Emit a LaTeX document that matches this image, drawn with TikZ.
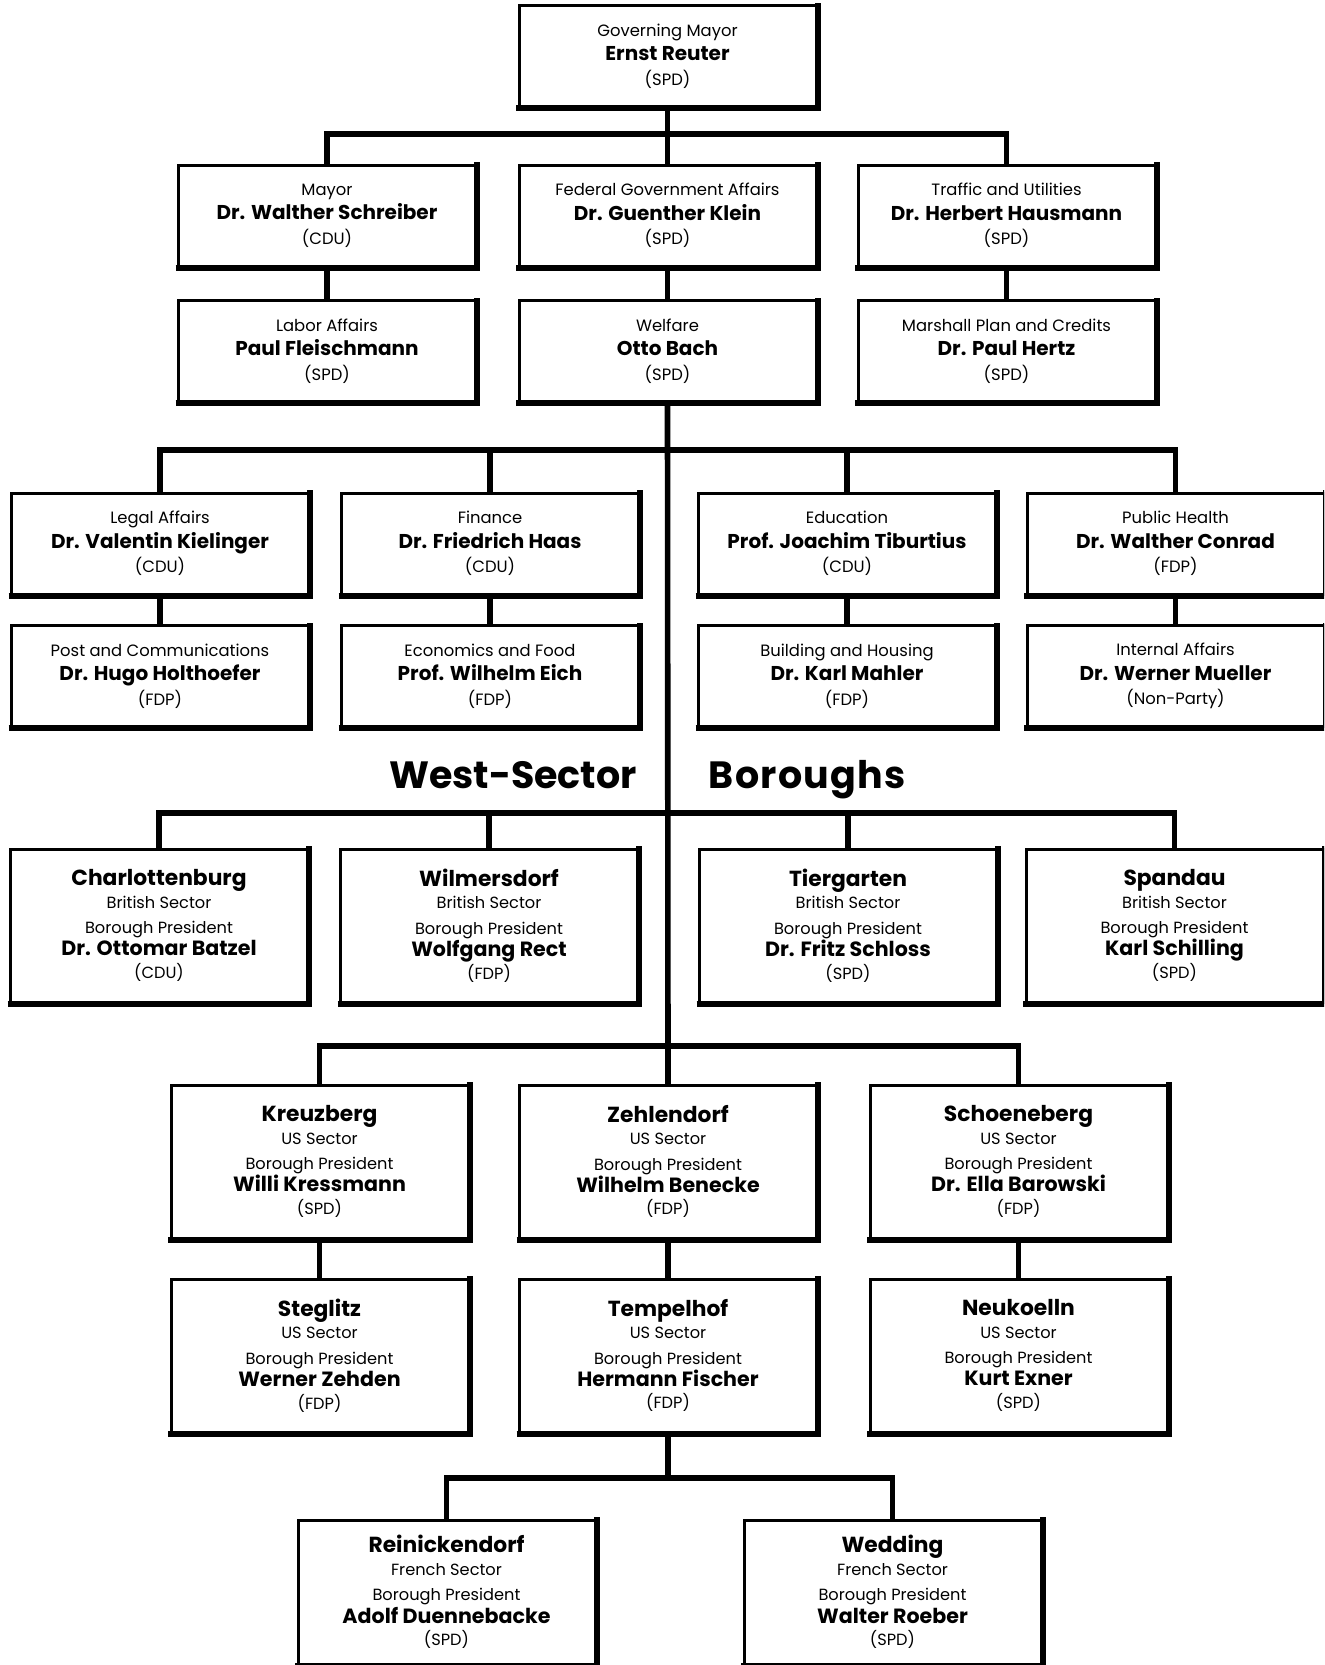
\documentclass[tikz,border=0pt]{standalone}
\usepackage{fontspec}
\setmainfont{Poppins}
\newcommand\govname[1]{{\bfseries\fontsize{10}{12.2}\selectfont #1}}
\newcommand\borname[1]{{\bfseries\fontsize{10.9}{11.2}\selectfont #1}}
\newcommand\bperson[1]{{\bfseries\fontsize{10.3}{11.2}\selectfont #1}}
\tikzset{
  box/.style={draw, line width=1.5pt, minimum width=148.5pt, inner sep=0pt, align=center, fill=white},
  gov/.style={box, minimum height=50.5pt, font=\fontsize{8.2}{12.2}\selectfont},
  bor/.style={box, minimum height=76.5pt, font=\fontsize{8.1}{11.2}\selectfont},
  link/.style={line width=2.8pt, line cap=rect},
  shade/.style={line width=3pt, line cap=butt},
  heading/.style={font=\bfseries\fontsize{19}{22}\selectfont, inner sep=0pt, anchor=base}
}
\begin{document}
\begin{tikzpicture}[x=0.5pt, y=-0.5pt]
\useasboundingbox (0,0) rectangle (1324,1665);
\clip (0,0) rectangle (1324,1665);
% government
\node[gov] (top) at (667.5,56) {Governing Mayor\\\govname{Ernst Reuter}\\(SPD)};
\node[gov] (mayor) at (327,215.5) {Mayor\\\govname{Dr. Walther Schreiber}\\(CDU)};
\node[gov] (fed) at (667.5,215.5) {Federal Government Affairs\\\govname{Dr. Guenther Klein}\\(SPD)};
\node[gov] (traffic) at (1006.5,215.5) {Traffic and Utilities\\\govname{Dr. Herbert Hausmann}\\(SPD)};
\node[gov] (labor) at (327,351) {Labor Affairs\\\govname{Paul Fleischmann}\\(SPD)};
\node[gov] (welfare) at (667.5,351) {Welfare\\\govname{Otto Bach}\\(SPD)};
\node[gov] (marshall) at (1006.5,351) {Marshall Plan and Credits\\\govname{Dr. Paul Hertz}\\(SPD)};
\node[gov] (legal) at (160,543.5) {Legal Affairs\\\govname{Dr. Valentin Kielinger}\\(CDU)};
\node[gov] (finance) at (490,543.5) {Finance\\\govname{Dr. Friedrich Haas}\\(CDU)};
\node[gov] (educ) at (847,543.5) {Education\\\govname{Prof. Joachim Tiburtius}\\(CDU)};
\node[gov] (health) at (1175.5,543.5) {Public Health\\\govname{Dr. Walther Conrad}\\(FDP)};
\node[gov] (post) at (160,676) {Post and Communications\\\govname{Dr. Hugo Holthoefer}\\(FDP)};
\node[gov] (econ) at (490,676) {Economics and Food\\\govname{Prof. Wilhelm Eich}\\(FDP)};
\node[gov] (build) at (847,676) {Building and Housing\\\govname{Dr. Karl Mahler}\\(FDP)};
\node[gov] (internal) at (1175.5,676) {Internal Affairs\\\govname{Dr. Werner Mueller}\\(Non-Party)};
% heading
\node[heading] (hw) at (513,788) {West-Sector};
\node[heading] (hb) at (807.5,788) {\addfontfeature{LetterSpace=3.5}Boroughs};
% boroughs
\node[bor] (charl) at (159,925.5) {\borname{Charlottenburg}\\British Sector\\[1.5pt]Borough President\\\bperson{Dr. Ottomar Batzel}\\(CDU)};
\node[bor] (wilm) at (489,925.5) {\borname{Wilmersdorf}\\British Sector\\[1.5pt]Borough President\\\bperson{Wolfgang Rect}\\(FDP)};
\node[bor] (tierg) at (848,925.5) {\borname{Tiergarten}\\British Sector\\[1.5pt]Borough President\\\bperson{Dr. Fritz Schloss}\\(SPD)};
\node[bor] (spand) at (1174.5,925.5) {\borname{Spandau}\\British Sector\\[1.5pt]Borough President\\\bperson{Karl Schilling}\\(SPD)};
\node[bor] (kreuz) at (319.5,1161.5) {\borname{Kreuzberg}\\US Sector\\[1.5pt]Borough President\\\bperson{Willi Kressmann}\\(SPD)};
\node[bor] (zehl) at (668,1161.5) {\borname{Zehlendorf}\\US Sector\\[1.5pt]Borough President\\\bperson{Wilhelm Benecke}\\(FDP)};
\node[bor] (schoen) at (1018.5,1161.5) {\borname{Schoeneberg}\\US Sector\\[1.5pt]Borough President\\\bperson{Dr. Ella Barowski}\\(FDP)};
\node[bor] (steg) at (319.5,1355.5) {\borname{Steglitz}\\US Sector\\[1.5pt]Borough President\\\bperson{Werner Zehden}\\(FDP)};
\node[bor] (tempel) at (668,1355.5) {\borname{Tempelhof}\\US Sector\\[1.5pt]Borough President\\\bperson{Hermann Fischer}\\(FDP)};
\node[bor] (neuk) at (1018.5,1355.5) {\borname{Neukoelln}\\US Sector\\[1.5pt]Borough President\\\bperson{Kurt Exner}\\(SPD)};
\node[bor, minimum height=72pt] (reinick) at (446.5,1592) {\borname{Reinickendorf}\\French Sector\\[1.5pt]Borough President\\\bperson{Adolf Duennebacke}\\(SPD)};
\node[bor, minimum height=72pt] (wedd) at (892.5,1592) {\borname{Wedding}\\French Sector\\[1.5pt]Borough President\\\bperson{Walter Roeber}\\(SPD)};
% heavier bottom and right edges
\foreach \n in {top,mayor,fed,traffic,labor,welfare,marshall,legal,finance,educ,health,post,econ,build,internal,charl,wilm,tierg,spand,kreuz,zehl,schoen,steg,tempel,neuk,reinick,wedd}
  \draw[shade] ([xshift=-0.75pt]\n.south west) -- (\n.south east) -- ([yshift=0.75pt]\n.north east);
% bus coordinates
\coordinate (b1) at (668,134);
\coordinate (b2) at (668,450);
\coordinate (b3) at (668,813);
\coordinate (b4) at (668,1046);
\coordinate (b5) at (668,1478);
% connectors
\draw[link] (top.south) -- (fed.north);
\draw[link] (mayor.north) |- (b1) -| (traffic.north);
\draw[link] (mayor.south) -- (labor.north);
\draw[link] (fed.south) -- (welfare.north);
\draw[link] (traffic.south) -- (marshall.north);
\draw[link] (welfare.south) -- (zehl.north);
\draw[link] (legal.north) |- (b2) -| (health.north);
\draw[link] (finance.north) |- (b2);
\draw[link] (educ.north) |- (b2);
\draw[link] (legal.south) -- (post.north);
\draw[link] (finance.south) -- (econ.north);
\draw[link] (educ.south) -- (build.north);
\draw[link] (health.south) -- (internal.north);
\draw[link] (charl.north) |- (b3) -| (spand.north);
\draw[link] (wilm.north) |- (b3);
\draw[link] (tierg.north) |- (b3);
\draw[link] (kreuz.north) |- (b4) -| (schoen.north);
\draw[link] (kreuz.south) -- (steg.north);
\draw[link] (zehl.south) -- (tempel.north);
\draw[link] (schoen.south) -- (neuk.north);
\draw[link] (tempel.south) -- (b5);
\draw[link] (reinick.north) |- (b5) -| (wedd.north);
\end{tikzpicture}
\end{document}
